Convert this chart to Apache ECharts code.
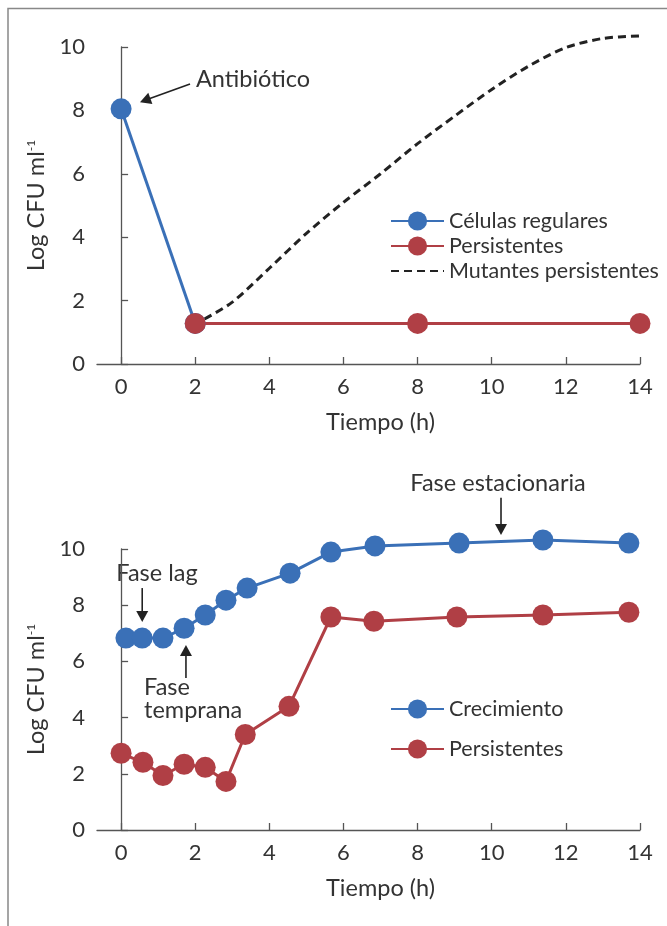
<!DOCTYPE html>
<html>
<head>
<meta charset="utf-8">
<script src="https://cdn.jsdelivr.net/npm/echarts@6/dist/echarts.min.js"></script>
<style>
  html, body { margin: 0; padding: 0; background: #fff; }
  #chart { width: 667px; height: 926px; }
</style>
</head>
<body>
<div id="chart"></div>
<script>
const TEXT = "#333"
const AXIS = "#555"
const BLUE = "#3a70b7"
const RED = "#b03f45"
const FONT = "Lato"

const hourTicks = [0, 2, 4, 6, 8, 10, 12, 14]

// top panel: kill curve after the antibiotic
const regularCells = [[0, 8.05], [2, 1.28]]
const persistersTop = [[2, 1.28], [8, 1.28], [14, 1.28]]
const persisterMutants = [
  [2.25, 1.42], [3, 1.95], [4, 3.02], [5, 4.12], [6, 5.1], [7, 6.0], [8, 6.95],
  [9, 7.82], [10, 8.66], [11, 9.4], [12, 9.98], [13, 10.27], [14, 10.35]
]

// bottom panel: regrowth
const growth = [
  [0.13, 6.83], [0.57, 6.83], [1.13, 6.83], [1.7, 7.18], [2.27, 7.65], [2.83, 8.18],
  [3.4, 8.61], [4.56, 9.14], [5.66, 9.89], [6.85, 10.11], [9.12, 10.21], [11.38, 10.32], [13.7, 10.21]
]
const persistersBottom = [
  [0, 2.73], [0.59, 2.41], [1.13, 1.94], [1.7, 2.34], [2.27, 2.23], [2.83, 1.73],
  [3.35, 3.4], [4.53, 4.4], [5.66, 7.58], [6.82, 7.43], [9.06, 7.58], [11.38, 7.65], [13.7, 7.75]
]

// arrows: [grid, tail, tip] in axis units
const arrows = [
  [0, [1.86, 8.83], [0.51, 8.26]],
  [1, [0.57, 8.61], [0.57, 7.4]],
  [1, [1.75, 5.41], [1.75, 6.58]],
  [1, [10.25, 11.82], [10.25, 10.5]]
]

const notes = [
  { grid: 0, at: [2.02, 8.99], text: "Antibiótico", align: "left" },
  { grid: 1, at: [-0.13, 9.14], text: "Fase lag", align: "left" },
  { grid: 1, at: [0.62, 4.65], text: "Fase\ntemprana", align: "left" },
  { grid: 1, at: [10.17, 12.35], text: "Fase estacionaria", align: "center" }
]

const chart = echarts.init(document.getElementById("chart"), null, { renderer: "canvas" })

const label = { color: TEXT, fontFamily: FONT, fontSize: 22 }
const bigLabel = { color: TEXT, fontFamily: FONT, fontSize: 23.5 }

function xAxisFor(gridIndex) {
  return {
    type: "value",
    gridIndex,
    min: -0.65,
    max: 14,
    name: "Tiempo (h)",
    nameLocation: "middle",
    nameGap: 46,
    nameTextStyle: { ...bigLabel, padding: [0, 0, 0, 24] },
    axisLine: { lineStyle: { color: AXIS, width: 1.3 } },
    axisTick: { inside: true, length: 7, customValues: hourTicks, lineStyle: { color: AXIS, width: 1.3 } },
    axisLabel: { ...label, margin: 12, customValues: hourTicks },
    splitLine: { show: false }
  }
}

function yAxisFor(gridIndex) {
  return {
    type: "value",
    gridIndex,
    min: 0,
    max: 10,
    interval: 2,
    name: "{a|Log CFU ml}{s|-1}",
    nameLocation: "middle",
    nameGap: 45,
    nameRotate: 90,
    nameTextStyle: {
      ...bigLabel,
      rich: {
        a: { ...bigLabel },
        s: { color: TEXT, fontFamily: FONT, fontSize: 12, padding: [0, 0, 11, 0] }
      }
    },
    axisLine: { show: true, lineStyle: { color: AXIS, width: 1.3 } },
    axisTick: { show: true, inside: true, length: 7, lineStyle: { color: AXIS, width: 1.3 } },
    axisLabel: { ...label, margin: 12 },
    splitLine: { show: false }
  }
}

function dotSeries(name, data, color, gridIndex) {
  return {
    name,
    type: "line",
    xAxisIndex: gridIndex,
    yAxisIndex: gridIndex,
    data,
    clip: false,
    symbol: "circle",
    symbolSize: 21,
    color,
    lineStyle: { color, width: 3 },
    itemStyle: { color },
    emphasis: { disabled: true }
  }
}

const legendBase = {
  orient: "vertical",
  left: 385,
  itemWidth: 53,
  itemHeight: 24,
  selectedMode: false,
  textStyle: { color: TEXT, fontFamily: FONT, fontSize: 21.5, padding: [0, 0, 0, 0] }
}

chart.setOption({
  animation: false,
  backgroundColor: "#fff",
  grid: [
    { left: 97, top: 47, width: 543, height: 317 },
    { left: 97, top: 549, width: 543, height: 281 }
  ],
  xAxis: [xAxisFor(0), xAxisFor(1)],
  yAxis: [yAxisFor(0), yAxisFor(1)],
  legend: [
    {
      ...legendBase,
      top: 205,
      itemGap: 3,
      data: [
        "Células regulares",
        "Persistentes",
        { name: "Mutantes persistentes", itemStyle: { opacity: 0 } }
      ]
    },
    { ...legendBase, top: 693, itemGap: 18, data: ["Crecimiento", "Persistentes"] }
  ],
  series: [
    dotSeries("Células regulares", regularCells, BLUE, 0),
    {
      name: "Mutantes persistentes",
      type: "line",
      data: persisterMutants,
      smooth: 0.3,
      clip: false,
      symbol: "none",
      color: "#222",
      lineStyle: { color: "#222", width: 3, type: [8, 5] },
      emphasis: { disabled: true }
    },
    dotSeries("Persistentes", persistersTop, RED, 0),
    dotSeries("Crecimiento", growth, BLUE, 1),
    dotSeries("Persistentes", persistersBottom, RED, 1)
  ]
})

// frame, arrows and annotation text, placed through the axes
const toPx = (grid, point) => chart.convertToPixel({ gridIndex: grid }, point)

const arrowGraphics = arrows.flatMap(([grid, tail, tip]) => {
  const [x0, y0] = toPx(grid, tail)
  const [x1, y1] = toPx(grid, tip)
  const len = Math.hypot(x1 - x0, y1 - y0)
  const ux = (x1 - x0) / len
  const uy = (y1 - y0) / len
  const head = 11
  const half = 6
  const bx = x1 - ux * head
  const by = y1 - uy * head
  return [
    {
      type: "line",
      silent: true,
      shape: { x1: x0, y1: y0, x2: bx + ux * 2, y2: by + uy * 2 },
      style: { stroke: "#222", lineWidth: 1.6 }
    },
    {
      type: "polygon",
      silent: true,
      shape: { points: [[x1, y1], [bx - uy * half, by + ux * half], [bx + uy * half, by - ux * half]] },
      style: { fill: "#222" }
    }
  ]
})

const noteGraphics = notes.map((note) => {
  const [x, y] = toPx(note.grid, note.at)
  return {
    type: "text",
    x,
    y,
    silent: true,
    style: {
      text: note.text,
      fill: TEXT,
      font: `23.5px ${FONT}`,
      lineHeight: 23,
      align: note.align,
      verticalAlign: "middle"
    }
  }
})

chart.setOption({
  graphic: [
    {
      type: "polyline",
      silent: true,
      shape: { points: [[8, 926], [8, 8.5], [667, 8.5]] },
      style: { stroke: "#888", lineWidth: 1.5, fill: null }
    },
    ...arrowGraphics,
    ...noteGraphics
  ]
})
</script>
</body>
</html>
